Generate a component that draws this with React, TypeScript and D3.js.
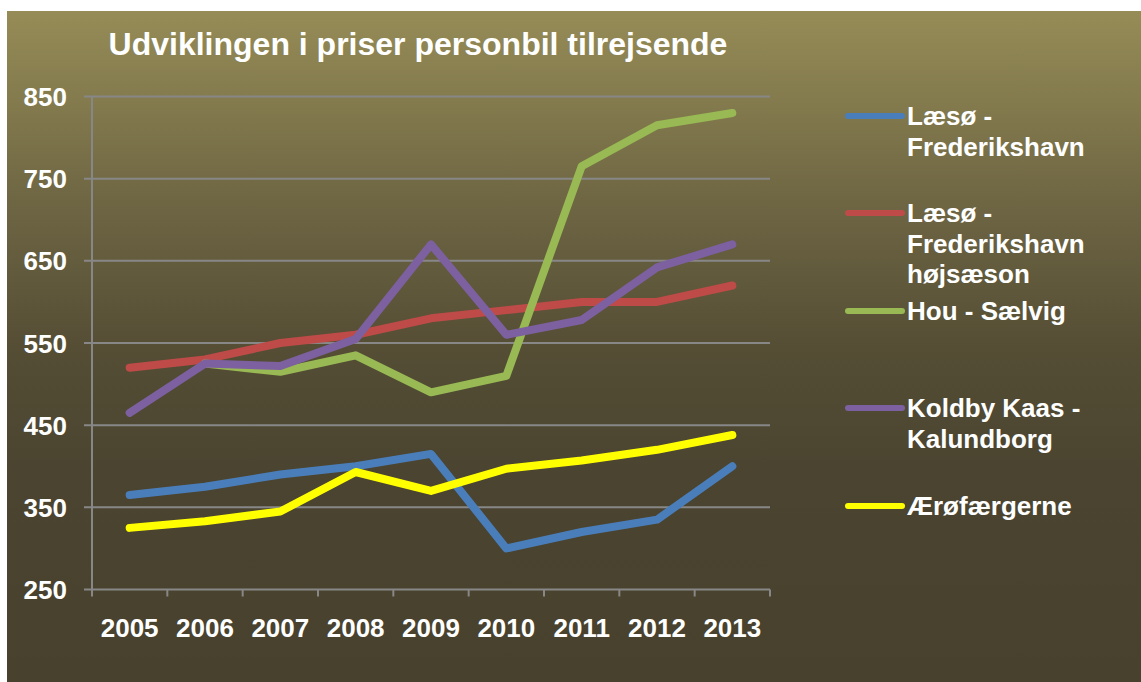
import React from "react";
import * as d3 from "d3";

const years = ["2005", "2006", "2007", "2008", "2009", "2010", "2011", "2012", "2013"];
const yTicks = [250, 350, 450, 550, 650, 750, 850];

const laesoValues = [365, 375, 390, 400, 415, 300, 320, 335, 400];
const laesoHighValues = [520, 530, 550, 560, 580, 590, 600, 600, 620];
const houValues: (number | null)[] = [null, 525, 515, 535, 490, 510, 765, 815, 830];
const koldbyValues = [465, 525, 522, 555, 670, 560, 578, 642, 670];
const aeroValues = [325, 333, 345, 393, 370, 397, 407, 420, 438];

const seriesNames = [
  ["Læsø -", "Frederikshavn"],
  ["Læsø -", "Frederikshavn", "højsæson"],
  ["Hou - Sælvig"],
  ["Koldby Kaas -", "Kalundborg"],
  ["Ærøfærgerne"],
];
const seriesColors = ["#4a7ebb", "#be4b48", "#98b954", "#7d60a0", "#ffff00"];
const seriesValues = [laesoValues, laesoHighValues, houValues, koldbyValues, aeroValues];
const legendY = [116, 213, 311, 408, 506];

const W = 1141;
const H = 682;
const font = "'Liberation Sans', Arial, sans-serif";

export default function App() {
  const x = d3.scaleBand<string>().domain(years).range([92, 770]);
  const y = d3.scaleLinear().domain([250, 850]).range([589.5, 96.5]);
  const cx = (yr: string) => (x(yr) as number) + x.bandwidth() / 2;
  const line = d3
    .line<number | null>()
    .defined((d) => d !== null)
    .x((_, i) => cx(years[i]))
    .y((d) => y(d as number));
  const boundaries = d3.range(years.length + 1).map((i) => 92 + i * x.bandwidth());
  const grid = "#878787";

  return (
    <svg width={W} height={H} style={{ position: "absolute", left: 0, top: 0, display: "block" }}>
      <defs>
        <linearGradient id="bg" x1="0" y1="0" x2="0" y2="1">
          <stop offset="0%" stopColor="#968c57" />
          <stop offset="30%" stopColor="#6c6442" />
          <stop offset="50%" stopColor="#554e35" />
          <stop offset="68%" stopColor="#4b4430" />
          <stop offset="100%" stopColor="#48412e" />
        </linearGradient>
      </defs>
      <rect x={0} y={0} width={W} height={H} fill="#ffffff" />
      <rect x={7} y={11} width={W - 7} height={H - 11} fill="url(#bg)" />
      <text x={418} y={55} textAnchor="middle" fill="#ffffff" fontFamily={font} fontWeight="bold" fontSize={32}>
        Udviklingen i priser personbil tilrejsende
      </text>
      {yTicks.map((t) => (
        <g key={t}>
          <line x1={84} x2={770} y1={y(t)} y2={y(t)} stroke={grid} strokeWidth={2} />
          <text x={67} y={y(t) + 9.5} textAnchor="end" fill="#ffffff" fontFamily={font} fontWeight="bold" fontSize={26}>
            {t}
          </text>
        </g>
      ))}
      <line x1={92} x2={92} y1={y(850)} y2={y(250)} stroke={grid} strokeWidth={2} />
      {boundaries.map((b, i) => (
        <line key={i} x1={b} x2={b} y1={y(250)} y2={y(250) + 7} stroke={grid} strokeWidth={2} />
      ))}
      {years.map((yr) => (
        <text key={yr} x={cx(yr)} y={637} textAnchor="middle" fill="#ffffff" fontFamily={font} fontWeight="bold" fontSize={26}>
          {yr}
        </text>
      ))}
      {seriesValues.map((vals, i) => (
        <path
          key={i}
          d={line(vals) as string}
          fill="none"
          stroke={seriesColors[i]}
          strokeWidth={8}
          strokeLinecap="round"
          strokeLinejoin="round"
        />
      ))}
      {seriesNames.map((lines, i) => (
        <g key={i}>
          <line x1={848} x2={902} y1={legendY[i]} y2={legendY[i]} stroke={seriesColors[i]} strokeWidth={6} strokeLinecap="round" />
          {lines.map((l, j) => (
            <text key={j} x={907} y={legendY[i] + 9 + j * 30.5} fill="#ffffff" fontFamily={font} fontWeight="bold" fontSize={26}>
              {l}
            </text>
          ))}
        </g>
      ))}
    </svg>
  );
}
